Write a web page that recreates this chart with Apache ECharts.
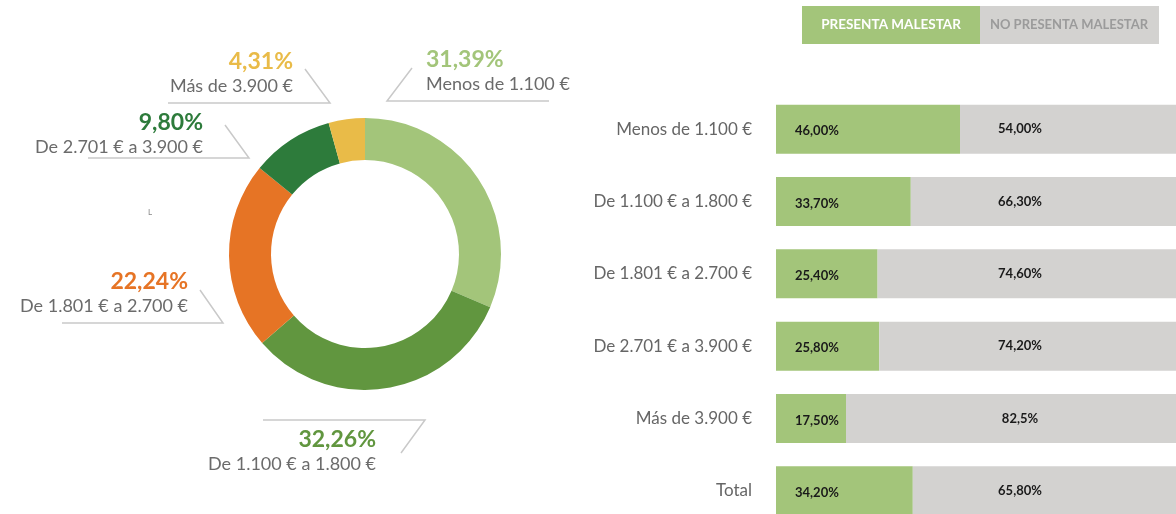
<!DOCTYPE html>
<html><head><meta charset="utf-8">
<script src="https://cdn.jsdelivr.net/npm/echarts@6/dist/echarts.min.js"></script>
<style>html,body{margin:0;padding:0;background:#fff}#c{width:1176px;height:514px}</style>
</head><body><div id="c"></div>
<script>
// ---- data ----
const pieCategories = ['Menos de 1.100 €','De 1.100 € a 1.800 €','De 1.801 € a 2.700 €','De 2.701 € a 3.900 €','Más de 3.900 €'];
const pieValues = [31.39, 32.26, 22.24, 9.80, 4.31];
const pieValueLabels = ['31,39%','32,26%','22,24%','9,80%','4,31%'];

const barCategories = ['Menos de 1.100 €','De 1.100 € a 1.800 €','De 1.801 € a 2.700 €','De 2.701 € a 3.900 €','Más de 3.900 €','Total'];
const presentaValues = [46.00, 33.70, 25.40, 25.80, 17.50, 34.20];
const noPresentaValues = [54.00, 66.30, 74.60, 74.20, 82.5, 65.80];
const presentaLabels = ['46,00%','33,70%','25,40%','25,80%','17,50%','34,20%'];
const noPresentaLabels = ['54,00%','66,30%','74,60%','74,20%','82,5%','65,80%'];
const seriesNames = ['PRESENTA MALESTAR','NO PRESENTA MALESTAR'];

// ---- styles ----
const FONT = 'Lato, "Open Sans", sans-serif';
const pieColors = ['#a3c57a','#61963f','#e67425','#2d7b3b','#e9bb48'];
const barColors = ['#a3c57a','#d3d2d0'];
const pieLabelAnchors = [
  {x:426, y:47,  align:'left',  line:[[412,68],[387,101],[549,101]]},
  {x:376, y:427, align:'right', line:[[401,453],[425,420],[263,420]]},
  {x:188, y:269, align:'right', line:[[200,290],[223,323],[62,323]]},
  {x:203, y:110, align:'right', line:[[225,125],[249,158],[88,158]]},
  {x:293, y:49,  align:'right', line:[[305,69],[330,103],[168,103]]}
];

const rich = {};
pieColors.forEach((c,i)=>{
  const al = pieLabelAnchors[i].align;
  rich['p'+i] = {fontFamily:FONT, fontSize:23, fontWeight:'bold', color:c, lineHeight:26, align:al};
  rich['l'+i] = {fontFamily:FONT, fontSize:18, color:'#6b6b6b', lineHeight:22, align:al};
});

const chart = echarts.init(document.getElementById('c'));
chart.setOption({
  animation:false,
  textStyle:{fontFamily:FONT},
  grid:{left:776, right:0, top:93, bottom:-13, outerBoundsMode:'none', containLabel:false},
  xAxis:{type:'value', min:0, max:100, show:false},
  yAxis:{type:'category', data:barCategories, inverse:true,
    axisLine:{show:false}, axisTick:{show:false},
    axisLabel:{color:'#666666', fontSize:17, margin:24, fontFamily:FONT}},
  series:[
    {type:'pie', center:[365,254], radius:[94,136], startAngle:90, clockwise:true,
     avoidLabelOverlap:false, silent:true,
     data: pieValues.map((v,i)=>({name:pieCategories[i], value:v, itemStyle:{color:pieColors[i]}})),
     label:{show:true, rich:rich,
       formatter:p=>'{p'+p.dataIndex+'|'+pieValueLabels[p.dataIndex]+'}\n{l'+p.dataIndex+'|'+pieCategories[p.dataIndex]+'}'},
     labelLine:{show:true, length:10, length2:10, lineStyle:{color:'#c9c9c9', width:1.5}},
     labelLayout:function(p){
       const a = pieLabelAnchors[p.dataIndex];
       return {x:a.x, y:a.y, align:a.align, verticalAlign:'top', labelLinePoints:a.line};
     }
    },
    {type:'bar', name:seriesNames[0], stack:'t', data:presentaValues, barWidth:49,
     itemStyle:{color:barColors[0]}, silent:true,
     label:{show:true, position:'insideLeft', distance:19, color:'#1a1a1a', fontSize:13, fontWeight:'bold',
       fontFamily:FONT, formatter:p=>presentaLabels[p.dataIndex], offset:[0,2]}},
    {type:'bar', name:seriesNames[1], stack:'t', data:noPresentaValues, barWidth:49,
     itemStyle:{color:barColors[1]}, silent:true,
     label:{show:true, position:'inside', color:'#1a1a1a', fontSize:13, fontWeight:'bold',
       fontFamily:FONT, formatter:p=>noPresentaLabels[p.dataIndex]},
     labelLayout:function(p){ return {x:1020, align:'center', verticalAlign:'middle'}; }
    }
  ],
  graphic:[
    {type:'rect', shape:{x:802, y:6, width:178, height:38}, style:{fill:barColors[0]}, silent:true},
    {type:'rect', shape:{x:980, y:6, width:179, height:38}, style:{fill:barColors[1]}, silent:true},
    {type:'text', x:891, y:25, style:{text:seriesNames[0], fill:'#ffffff', font:'bold 13.5px '+FONT, textAlign:'center', textVerticalAlign:'middle'}, silent:true},
    {type:'text', x:1069, y:25, style:{text:seriesNames[1], fill:'#9b9b9b', font:'bold 13px '+FONT, textAlign:'center', textVerticalAlign:'middle'}, silent:true},
    {type:'text', x:150, y:212, style:{text:'L', fill:'#888888', font:'8px '+FONT, textAlign:'center', textVerticalAlign:'middle'}, silent:true}
  ]
});
</script></body></html>
